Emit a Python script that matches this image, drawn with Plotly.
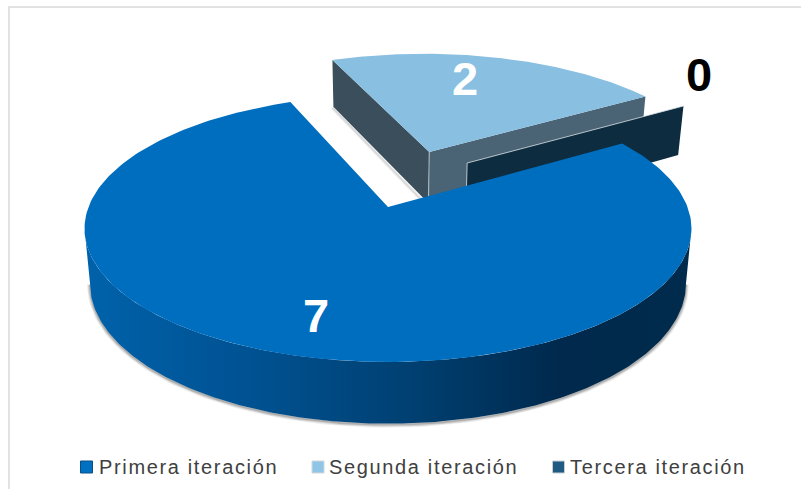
import numpy as np
import plotly.graph_objects as go

# Chart data
categories = ["Primera iteración", "Segunda iteración", "Tercera iteración"]
values = [7, 2, 0]

# Slice appearance
top_colors = ["#006EBF", "#89BFE1", "#0D2C40"]
legend_colors = ["#0070C0", "#8FC6E8", "#1F5A82"]
legend_edges = ["#0B4E86", "#D5D5D5", "#C8CDD2"]
cut_wall_colors = {"left": "#3A4F5B", "right": "#4A6375"}
side_gradient = [[0.0, "#0062AB"], [0.3, "#00508F"], [0.55, "#003F70"],
                 [0.78, "#00294D"], [1.0, "#002B4C"]]
first_slice_angle = 58.0
explode_radius = [0.0, 0.478, 0.454]
explode_angle = [0.0, 18.0, 38.0]
label_radius = [0.765, 0.733, 1.295]
label_angle = [196.0, 12.5, 48.0]
label_colors = ["white", "white", "black"]

# Perspective camera for the pie disc, in figure pixels
CX, CY = 388.0, 207.0
FX, FY, PERSP = 299.5, 130.0, 0.161
BASE_SX, BASE_SY, BASE_DY = 0.982, 1.05, 54.0


def project(u, v, base=False):
    den = 1 + PERSP * v
    if base:
        return CX + BASE_SX * FX * u / den, CY + BASE_DY - BASE_SY * FY * v / den
    return CX + FX * u / den, CY - FY * v / den


def rim(a0, a1, off=(0.0, 0.0), base=False, n=240):
    th = np.radians(np.linspace(a0, a1, n))
    return project(np.sin(th) + off[0], np.cos(th) + off[1], base)


def offset(i):
    a = np.radians(explode_angle[i])
    return explode_radius[i] * np.sin(a), explode_radius[i] * np.cos(a)


def poly(xs, ys, color=None, **kw):
    xs, ys = np.asarray(xs, float), np.asarray(ys, float)
    args = dict(x=np.r_[xs, xs[0]], y=np.r_[ys, ys[0]], mode="lines", fill="toself",
                line=dict(width=0), hoverinfo="skip", showlegend=False)
    if color:
        args["fillcolor"] = color
    args.update(kw)
    return go.Scatter(**args)


def edge(xs, ys, color, width=1.0):
    return go.Scatter(x=xs, y=ys, mode="lines", line=dict(color=color, width=width),
                      hoverinfo="skip", showlegend=False)


total = sum(values)
sweeps = [v / total * 360 for v in values]
starts = list(first_slice_angle + np.cumsum([0] + sweeps[:-1]))

fig = go.Figure()

# Chart area border: only the top and left sides are drawn
fig.add_shape(type="line", x0=8, y0=7, x1=801, y1=7, line=dict(color="#E2E2E2", width=2))
fig.add_shape(type="line", x0=9, y0=6, x1=9, y1=489, line=dict(color="#E2E2E2", width=2))

# Exploded second slice: cut walls, then the top face
a0, a1 = starts[1], starts[1] + sweeps[1]
off = offset(1)
ax, ay = project(off[0], off[1])
bx, by = project(off[0], off[1], True)
lx, ly = rim(a0, a0, off)
lbx, lby = rim(a0, a0, off, True)
rx, ry = rim(a1, a1, off)
rbx, rby = rim(a1, a1, off, True)
for w, col in ((4, "rgba(90,90,90,0.08)"), (2, "rgba(90,90,90,0.16)")):
    fig.add_trace(edge([lbx[0] - 1, bx - 2], [lby[0] + 1, by + 2], col, w))
fig.add_trace(poly([ax, lx[0], lbx[0], bx], [ay, ly[0], lby[0], by], cut_wall_colors["left"]))
fig.add_trace(poly([ax, rx[0], rbx[0], bx], [ay, ry[0], rby[0], by], cut_wall_colors["right"]))
fig.add_trace(edge([ax, bx], [ay, by], "#C9D3DA", 0.8))
tx, ty = rim(a0, a1, off)
fig.add_trace(poly(np.r_[ax, tx], np.r_[ay, ty], top_colors[1]))

# Third slice has no width, so only its cut wall shows
a2 = starts[2]
off = offset(2)
ax, ay = project(off[0], off[1])
bx, by = project(off[0], off[1], True)
rx, ry = rim(a2, a2, off)
rbx, rby = rim(a2, a2, off, True)
fig.add_trace(poly([ax, rx[0], rbx[0], bx], [ay, ry[0], rby[0], by], top_colors[2]))
fig.add_trace(edge([bx, ax, rx[0]], [by, ay, ry[0]], "#DDE4E8", 0.8))

# First slice: soft shadow, shaded outer wall between the silhouette tangents, then the top face
a0, a1 = starts[0], starts[0] + sweeps[0]
tan_r = np.degrees(np.arccos(-PERSP))
tan_l = 360 - tan_r
wtx, wty = rim(tan_r, tan_l)
wbx, wby = rim(tan_r, tan_l, base=True)
for w, col in ((6, "rgba(80,80,80,0.10)"), (4, "rgba(80,80,80,0.16)"), (2, "rgba(80,80,80,0.28)")):
    fig.add_trace(edge(wbx, wby + 1, col, w))
fig.add_trace(go.Scatter(
    x=np.r_[wtx, wbx[::-1], wtx[0]], y=np.r_[wty, wby[::-1], wty[0]], mode="lines",
    fill="toself", line=dict(width=0), hoverinfo="skip", showlegend=False,
    fillgradient=dict(type="horizontal", colorscale=side_gradient),
))
tx, ty = rim(a0, a1)
fig.add_trace(poly(np.r_[CX, tx], np.r_[CY, ty], top_colors[0]))

# Value labels, placed on the disc along each slice
for i, val in enumerate(values):
    off = offset(i)
    a = np.radians(label_angle[i])
    lx, ly = project(label_radius[i] * np.sin(a) + off[0], label_radius[i] * np.cos(a) + off[1])
    fig.add_annotation(x=float(lx), y=float(ly), text=f"<b>{val}</b>", showarrow=False,
                       font=dict(family="Liberation Sans", size=47, color=label_colors[i]))

# Legend row along the bottom
swatch_x = [86.5, 318, 558.5]
text_x = [97, 327, 568]
legend_y = 467
for i, name in enumerate(categories):
    fig.add_trace(go.Scatter(x=[swatch_x[i]], y=[legend_y], mode="markers", hoverinfo="skip",
                             showlegend=False,
                             marker=dict(symbol="square", size=12, color=legend_colors[i],
                                         line=dict(color=legend_edges[i], width=1))))
    fig.add_annotation(x=text_x[i], y=legend_y, showarrow=False, xanchor="left",
                       text=f'<span style="letter-spacing:1.65px">{name}</span>',
                       font=dict(family="Liberation Sans", size=20, color="#404040"))

fig.update_layout(
    width=801, height=489, margin=dict(l=0, r=0, t=0, b=0),
    paper_bgcolor="white", plot_bgcolor="white", showlegend=False,
    xaxis=dict(range=[0, 801], visible=False, fixedrange=True),
    yaxis=dict(range=[489, 0], visible=False, fixedrange=True),
)
fig.write_html("out.html")
